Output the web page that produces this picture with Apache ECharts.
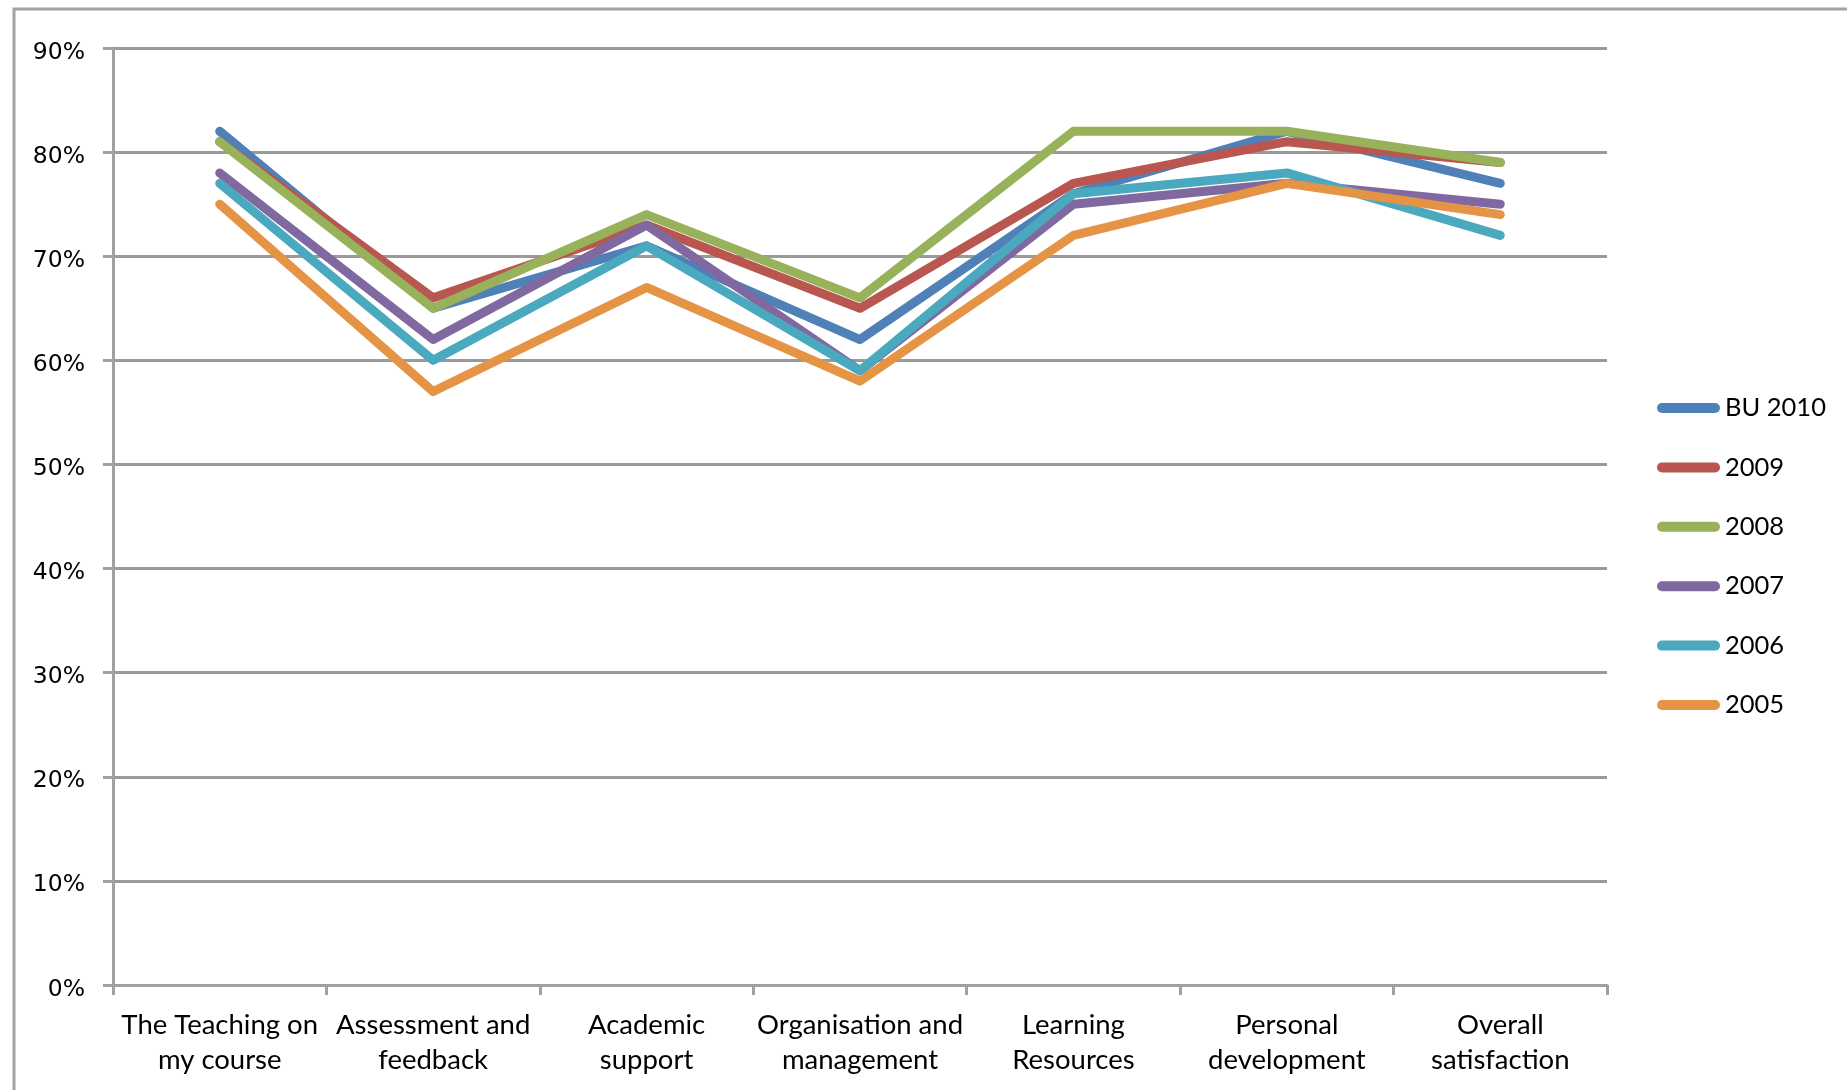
<!DOCTYPE html>
<html>
<head>
<meta charset="utf-8">
<script src="https://cdn.jsdelivr.net/npm/echarts@6/dist/echarts.min.js"></script>
<style>
html,body{margin:0;padding:0;background:#fff;}
#chart{width:1847px;height:1090px;}
</style>
</head>
<body>
<div id="chart"></div>
<script>
const categories = [
  "The Teaching on\nmy course",
  "Assessment and\nfeedback",
  "Academic\nsupport",
  "Organisation and\nmanagement",
  "Learning\nResources",
  "Personal\ndevelopment",
  "Overall\nsatisfaction"
];
const seriesNames = ["BU 2010", "2009", "2008", "2007", "2006", "2005"];
const bu2010 = [82, 65, 71, 62, 76, 82, 77];
const y2009  = [81, 66, 73, 65, 77, 81, 79];
const y2008  = [81, 65, 74, 66, 82, 82, 79];
const y2007  = [78, 62, 73, 59, 75, 77, 75];
const y2006  = [77, 60, 71, 59, 76, 78, 72];
const y2005  = [75, 57, 67, 58, 72, 77, 74];
const colors = ["#4f81b8", "#b9564f", "#97b25a", "#8068a0", "#4aa8bf", "#e59446"];

const allData = [bu2010, y2009, y2008, y2007, y2006, y2005];
const chart = echarts.init(document.getElementById('chart'));
chart.setOption({
  animation: false,
  backgroundColor: '#fff',
  color: colors,
  graphic: [{
    type: 'rect',
    shape: { x: 14, y: 9, width: 2000, height: 2000 },
    style: { fill: 'none', stroke: '#a3a3a3', lineWidth: 3 },
    silent: true,
    z: -1
  }],
  grid: { left: 113, top: 48, right: 240, bottom: 105, containLabel: false },
  legend: {
    orient: 'vertical',
    left: 1652,
    top: 388,
    itemWidth: 63,
    itemHeight: 10,
    itemGap: 29.4,
    icon: 'path://M5,0 H58 A5,5 0 0 1 58,10 H5 A5,5 0 0 1 5,0 Z',
    data: seriesNames,
    textStyle: { fontFamily: 'Lato', fontSize: 25.5, color: '#000', lineHeight: 30 }
  },
  xAxis: {
    type: 'category',
    data: categories,
    boundaryGap: true,
    axisLine: { lineStyle: { color: '#a0a0a0', width: 3 } },
    axisTick: { show: true, alignWithLabel: false, length: 10, lineStyle: { color: '#a0a0a0', width: 3 } },
    axisLabel: { fontFamily: 'Lato', fontSize: 27.5, color: '#000', lineHeight: 35, margin: 23, interval: 0 }
  },
  yAxis: {
    type: 'value',
    min: 0, max: 90, interval: 10,
    axisLine: { show: true, lineStyle: { color: '#a0a0a0', width: 3 } },
    axisTick: { show: true, length: 10, lineStyle: { color: '#a0a0a0', width: 3 } },
    splitLine: { lineStyle: { color: '#9a9a9a', width: 3 } },
    axisLabel: {
      formatter: '{a|{value}%}',
      margin: 28,
      rich: { a: { fontFamily: 'DejaVu Sans', fontSize: 23.5, color: '#000', padding: [9, 0, 0, 0] } }
    }
  },
  series: seriesNames.map((n, i) => ({
    name: n,
    type: 'line',
    data: allData[i],
    symbol: 'none',
    lineStyle: { width: 9, color: colors[i], cap: 'round', join: 'round' }
  }))
});
</script>
</body>
</html>
